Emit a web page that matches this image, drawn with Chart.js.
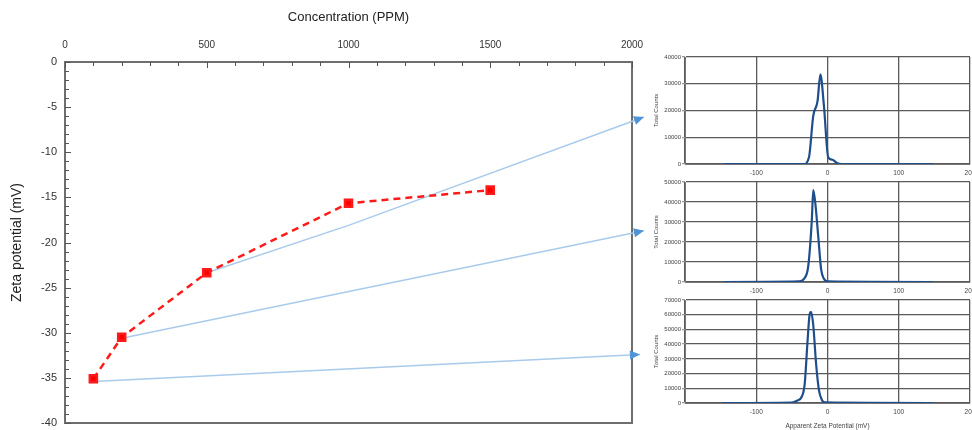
<!DOCTYPE html>
<html>
<head>
<meta charset="utf-8">
<script src="https://cdn.jsdelivr.net/npm/chart.js@4.4.1/dist/chart.umd.min.js"></script>
<style>
  html, body { margin:0; padding:0; background:#fff; }
  body { width:972px; height:430px; position:relative; overflow:hidden; }
  canvas { position:absolute; display:block; }
</style>
</head>
<body>
<canvas id="main" width="648" height="430" style="left:0;top:0;width:648px;height:430px"></canvas>
<canvas id="d1" width="324" height="140" style="left:648px;top:40px;width:324px;height:140px"></canvas>
<canvas id="d2" width="324" height="130" style="left:648px;top:168px;width:324px;height:130px"></canvas>
<canvas id="d3" width="324" height="144" style="left:648px;top:286px;width:324px;height:144px"></canvas>
<script>
// ---- main chart data ----
const concentration = [100, 200, 500, 1000, 1500];
const zetaPotential = [-35.1, -30.5, -23.35, -15.65, -14.2];
const xTickLabels = [0, 500, 1000, 1500, 2000];
const yTickLabels = [0, -5, -10, -15, -20, -25, -30, -35, -40];

// connector arrows (concentration, zeta) from a data point to a distribution plot
const arrow1X = [500, 1000, 2042];
const arrow1Y = [-23.35, -18.1, -6.1];
const arrow2X = [200, 2042];
const arrow2Y = [-30.6, -18.7];
const arrow3X = [100, 2028];
const arrow3Y = [-35.4, -32.4];

// ---- distribution plots (apparent zeta potential vs total counts) ----
const dist1Zeta   = [-145, -33, -26, -20, -14, -10, -5, 1, 7, 13, 20, 148];
const dist1Counts = [0, 0, 2500, 18000, 23500, 33500, 21700, 2500, 1600, 400, 0, 0];
const dist2Zeta   = [-145, -40, -33, -27, -22, -20, -17, -13, -9, -5, 0, 148];
const dist2Counts = [0, 300, 1600, 8000, 31000, 46000, 39000, 22800, 6500, 1600, 300, 0];
const dist3Zeta   = [-147, -50, -43, -36, -32, -28, -25, -23, -20, -16, -12, -8, -4, 148];
const dist3Counts = [0, 300, 1500, 4400, 13000, 42000, 60500, 62000, 53000, 26500, 8800, 2200, 400, 0];
const distXTicks = [-100, 0, 100, 200];

const FONT = "'Liberation Sans', Arial, sans-serif";
const pts = (xs, ys) => xs.map((x, i) => ({x, y: ys[i]}));
const plain = v => String(v);
const fix = (prop, size) => s => {
  s[prop] = size;
  s.paddingLeft = s.paddingRight = s.paddingTop = s.paddingBottom = 0;
};

const boxPlugin = {
  id: 'box',
  beforeDatasetsDraw(chart, args, opts) {
    if (!opts.on) return;
    const {ctx, chartArea: a, scales} = chart;
    ctx.save();
    ctx.strokeStyle = '#6e6e6e';
    ctx.lineWidth = 2;
    ctx.strokeRect(a.left, a.top, a.right - a.left, a.bottom - a.top);
    ctx.lineWidth = 1;
    ctx.strokeStyle = '#555';
    ctx.beginPath();
    for (let v = 0; v <= 2000; v += 100) {
      const x = Math.round(scales.x.getPixelForValue(v)) + 0.5;
      const L = v % 500 === 0 ? 6 : 4;
      ctx.moveTo(x, a.top); ctx.lineTo(x, a.top + L);
    }
    for (let v = 0; v >= -40; v -= 1) {
      const y = Math.round(scales.y.getPixelForValue(v)) + 0.5;
      const L = v % 5 === 0 ? 6 : 4;
      ctx.moveTo(a.left, y); ctx.lineTo(a.left + L, y);
    }
    ctx.stroke();
    ctx.restore();
  }
};

const arrowPlugin = {
  id: 'arrowHeads',
  afterDatasetsDraw(chart) {
    const ctx = chart.ctx;
    chart.data.datasets.forEach((ds, i) => {
      if (!ds.arrowHead) return;
      const p = chart.getDatasetMeta(i).data;
      const a = p[p.length - 2], b = p[p.length - 1];
      const ang = Math.atan2(b.y - a.y, b.x - a.x);
      ctx.save();
      ctx.translate(b.x, b.y);
      ctx.rotate(ang);
      ctx.beginPath();
      ctx.moveTo(0, 0); ctx.lineTo(-10, -4.5); ctx.lineTo(-10, 4.5); ctx.closePath();
      ctx.fillStyle = ds.arrowHead;
      ctx.fill();
      ctx.restore();
    });
  }
};

const arrowDs = (xs, ys) => ({
  data: pts(xs, ys), borderColor: '#a9cbeb', borderWidth: 1.5,
  pointRadius: 0, tension: 0, clip: false, arrowHead: '#4f93d8', order: 2
});

new Chart(document.getElementById('main'), {
  type: 'line',
  data: {
    datasets: [
      { data: pts(concentration, zetaPotential), borderColor: '#ff1a1a', backgroundColor: '#ff0000',
        borderWidth: 2.5, borderDash: [7, 5], pointStyle: 'rect', pointRadius: 5, order: 1 },
      arrowDs(arrow1X, arrow1Y),
      arrowDs(arrow2X, arrow2Y),
      arrowDs(arrow3X, arrow3Y)
    ]
  },
  options: {
    responsive: false, animation: false, devicePixelRatio: 1,
    layout: { autoPadding: false, padding: { left: 0, right: 16, top: 0, bottom: 7 } },
    plugins: { legend: { display: false }, tooltip: { enabled: false }, box: { on: true } },
    scales: {
      x: {
        type: 'linear', position: 'top', min: 0, max: 2000,
        afterFit: fix('height', 62),
        afterBuildTicks: s => { s.ticks = xTickLabels.map(v => ({value: v})); },
        grid: { display: false, drawTicks: false },
        border: { display: false },
        ticks: { padding: 11, color: '#333', font: { family: FONT, size: 10 }, callback: plain },
        title: { display: true, text: 'Concentration (PPM)', color: '#222',
                 font: { family: FONT, size: 13 }, padding: { top: 10, bottom: 0 } }
      },
      y: {
        type: 'linear', min: -40, max: 0,
        afterFit: fix('width', 65),
        afterBuildTicks: s => { s.ticks = yTickLabels.map(v => ({value: v})); },
        grid: { display: false, drawTicks: false },
        border: { display: false },
        ticks: { padding: 8, color: '#333', font: { family: FONT, size: 11 }, callback: plain },
        title: { display: true, text: 'Zeta potential (mV)', color: '#222',
                 font: { family: FONT, size: 14 }, padding: { top: 9, bottom: 0 } }
      }
    }
  },
  plugins: [boxPlugin, arrowPlugin]
});

function distChart(id, zs, cs, yMax, padTop, xTitle) {
  new Chart(document.getElementById(id), {
    type: 'line',
    data: { datasets: [{ data: pts(zs, cs), borderColor: '#1f4e8c', borderWidth: 2.2,
                          pointRadius: 0, cubicInterpolationMode: 'monotone' }] },
    options: {
      responsive: false, animation: false, devicePixelRatio: 1,
      layout: { autoPadding: false, padding: { left: 0, right: 2, top: padTop, bottom: 0 } },
      plugins: { legend: { display: false }, tooltip: { enabled: false } },
      scales: {
        x: {
          type: 'linear', min: -200, max: 200,
          afterFit: fix('height', xTitle ? 27 : 16),
          afterBuildTicks: s => { s.ticks = [-200].concat(distXTicks).map(v => ({value: v})); },
          grid: { color: '#5a5a5a', lineWidth: 1.3, drawTicks: false },
          border: { color: '#777', width: 1 },
          ticks: { padding: 5, color: '#444', font: { family: FONT, size: 6.5 },
                   callback: v => v === -200 ? '' : String(v) },
          title: { display: !!xTitle, text: xTitle || '', color: '#444',
                   font: { family: FONT, size: 6.5 }, padding: { top: 2, bottom: 0 } }
        },
        y: {
          type: 'linear', min: 0, max: yMax,
          afterFit: fix('width', 37),
          grid: { color: '#5a5a5a', lineWidth: 1.3, tickLength: 3, tickColor: '#999' },
          border: { color: '#777', width: 1 },
          ticks: { stepSize: 10000, padding: 1, color: '#444', font: { family: FONT, size: 6 }, callback: plain },
          title: { display: true, text: 'Total Counts', color: '#444',
                   font: { family: FONT, size: 6 }, padding: { top: 5, bottom: 1 } }
        }
      }
    }
  });
}
distChart('d1', dist1Zeta, dist1Counts, 40000, 17, null);
distChart('d2', dist2Zeta, dist2Counts, 50000, 14, null);
distChart('d3', dist3Zeta, dist3Counts, 70000, 14, 'Apparent Zeta Potential (mV)');
</script>
</body>
</html>
